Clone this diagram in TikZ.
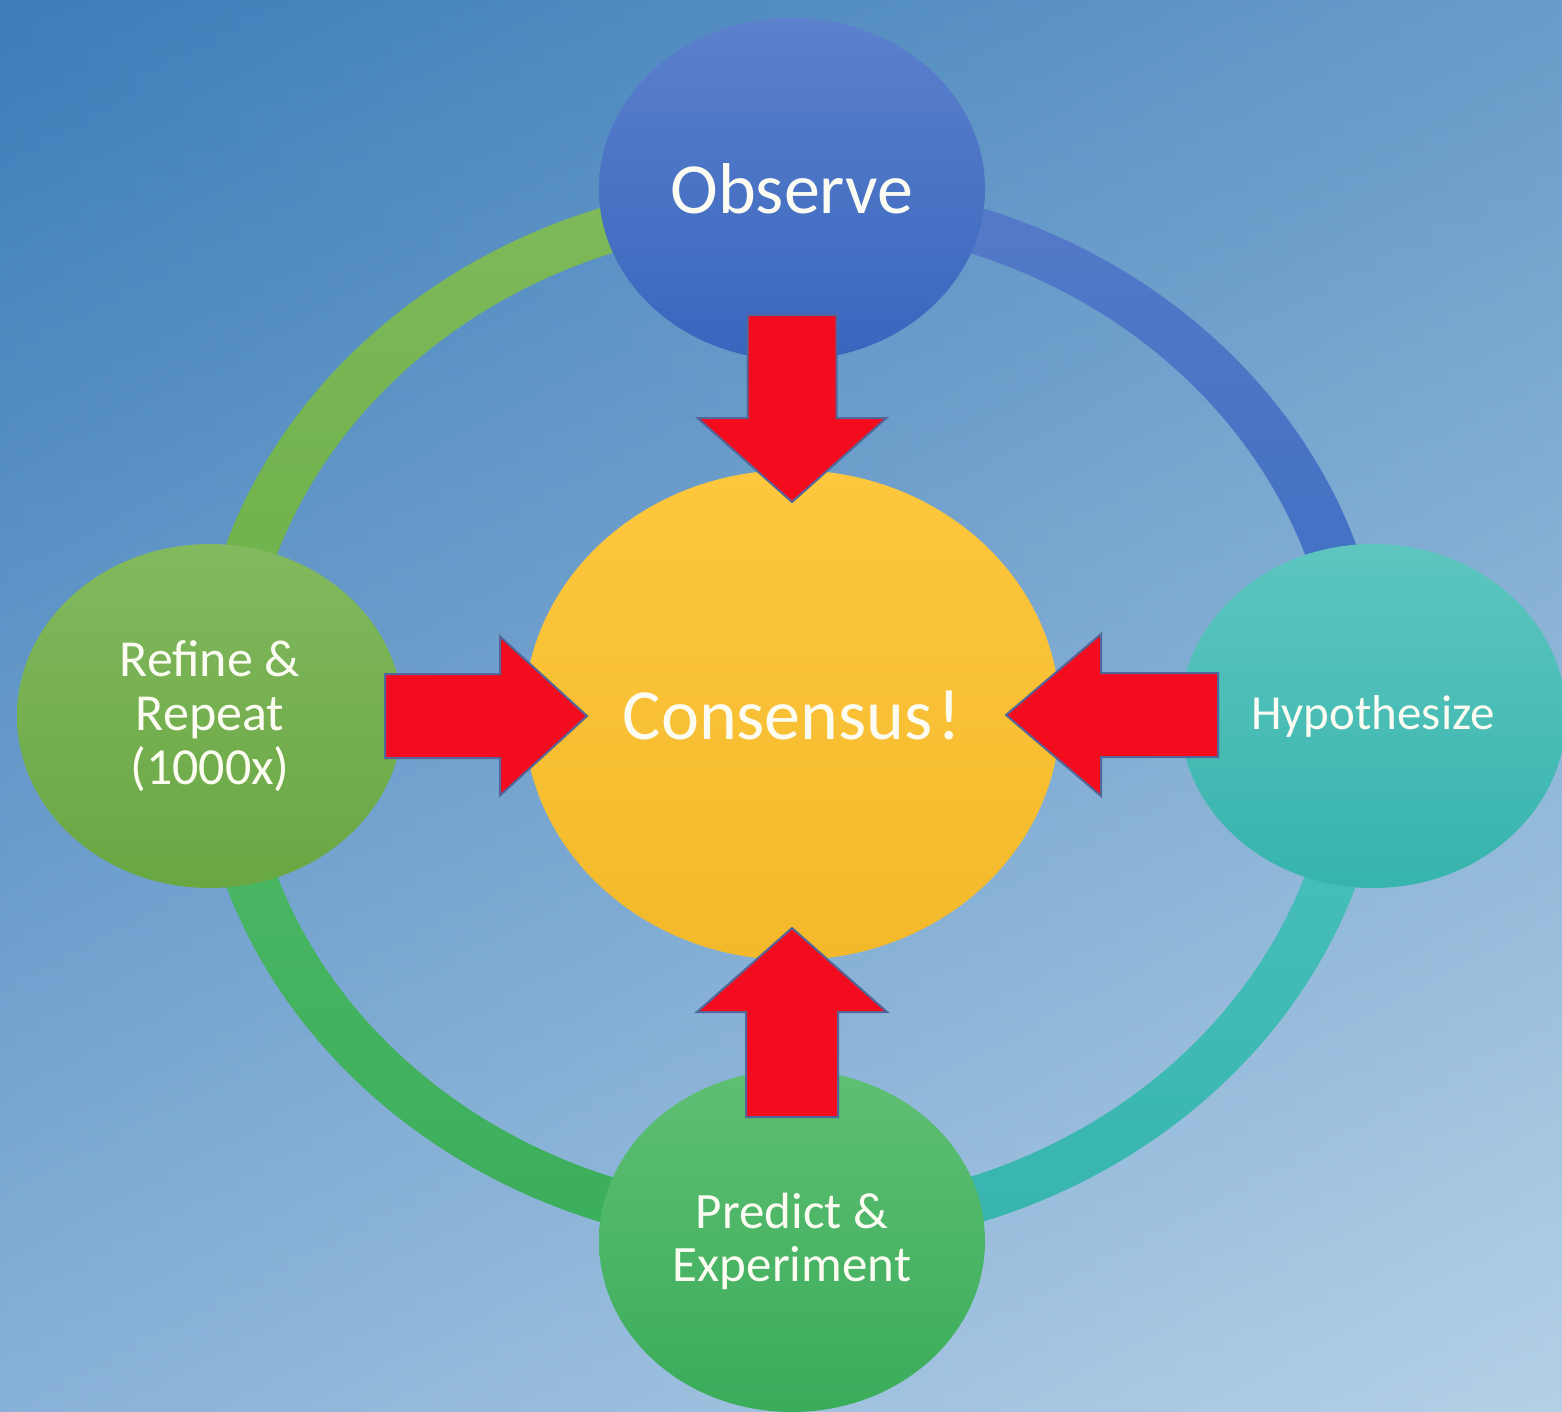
\documentclass[tikz,border=0pt]{standalone}
\usepackage{fontspec}
\setmainfont{Carlito}
\usetikzlibrary{shapes.geometric,calc}
\definecolor{bgTL}{HTML}{3D7DBA}
\definecolor{bgVB}{HTML}{D5E7F6}
\definecolor{bgHR}{HTML}{95BBD8}
\definecolor{txt}{HTML}{FCFCF2}
\definecolor{arrowred}{HTML}{F20C1E}
\definecolor{arrowedge}{HTML}{52669A}
\definecolor{obsT}{HTML}{5C80CC}
\definecolor{obsB}{HTML}{3866BE}
\definecolor{refT}{HTML}{82B95E}
\definecolor{refB}{HTML}{69A743}
\definecolor{hypT}{HTML}{5DC6BF}
\definecolor{hypB}{HTML}{36B4AD}
\definecolor{preT}{HTML}{5FBF73}
\definecolor{preB}{HTML}{39AC5A}
\definecolor{conT}{HTML}{FEC73E}
\definecolor{conB}{HTML}{F3B92B}
\definecolor{ringTLt}{HTML}{7FB95B}
\definecolor{ringTLb}{HTML}{6BB046}
\definecolor{ringTRt}{HTML}{567AC9}
\definecolor{ringTRb}{HTML}{3C6EC2}
\definecolor{ringBRt}{HTML}{4CC2BE}
\definecolor{ringBRb}{HTML}{36B4AD}
\definecolor{ringBLt}{HTML}{4DB865}
\definecolor{ringBLb}{HTML}{3BAE5B}
\newcommand\bigarrow[6]{%
  \draw[redarrow, shift={(#1)}, rotate=#2]
    (0,0) -- (-#6,-#5) -- (-#6,-#4) -- (-#3,-#4) -- (-#3,#4) -- (-#6,#4) -- (-#6,#5) -- cycle;}
\newcommand\ringpart[4]{%
  \shade[top color=#3, bottom color=#4]
    (791,715) ++(#1:596 and 535) arc[start angle=#1, end angle=#2, x radius=596, y radius=535]
    -- ($(791,715)+(#2:544 and 489)$) arc[start angle=#2, end angle=#1, x radius=544, y radius=489] -- cycle;}
\begin{document}
\begin{tikzpicture}[x=1pt,y=-1pt,
  bubble/.style={ellipse, inner sep=0pt, text=txt, align=center},
  redarrow/.style={fill=arrowred, draw=arrowedge, line width=2pt, line join=miter}]
\useasboundingbox (0,0) rectangle (1562,1411);
\clip (0,0) rectangle (1562,1411);
% background: diagonal gradient as blend of vertical and horizontal shadings
\shade[top color=bgTL, bottom color=bgVB] (0,0) rectangle (1562,1411);
\shade[left color=bgTL, right color=bgHR, opacity=0.5] (0,0) rectangle (1562,1411);
% ring
\ringpart{180}{270}{ringTLt}{ringTLb}
\ringpart{270}{360}{ringTRt}{ringTRb}
\ringpart{0}{90}{ringBRt}{ringBRb}
\ringpart{90}{180}{ringBLt}{ringBLb}
% circles
\node[bubble, minimum width=386pt, minimum height=342pt, top color=obsT, bottom color=obsB,
      font=\fontsize{72}{80}\selectfont] (obs) at (792,189) {Observe};
\node[bubble, minimum width=386pt, minimum height=344pt, top color=refT, bottom color=refB,
      font=\fontsize{52}{54}\selectfont] (ref) at (210,716) {Refine \&\\Repeat\\(1000x)};
\node[bubble, minimum width=386pt, minimum height=344pt, top color=hypT, bottom color=hypB,
      font=\fontsize{49}{52}\selectfont] (hyp) at (1373,716) {Hypothesize};
\node[bubble, minimum width=386pt, minimum height=342pt, top color=preT, bottom color=preB,
      font=\fontsize{51}{53}\selectfont] (pre) at (792,1241) {Predict \&\\Experiment};
\node[bubble, minimum width=536pt, minimum height=490pt, top color=conT, bottom color=conB,
      font=\fontsize{72}{80}\selectfont] (con) at (792,715) {Consensus\kern5pt!};
% arrows
\coordinate (tipN) at (792,502);
\coordinate (tipW) at (587,716);
\coordinate (tipE) at (1006,715);
\coordinate (tipS) at (792,928);
\bigarrow{tipN}{-90}{187}{44.5}{94.5}{84}
\bigarrow{tipW}{0}{202}{42}{79.5}{87}
\bigarrow{tipE}{180}{212}{42}{81}{95}
\bigarrow{tipS}{90}{189}{46}{95}{84}
\end{tikzpicture}
\end{document}
